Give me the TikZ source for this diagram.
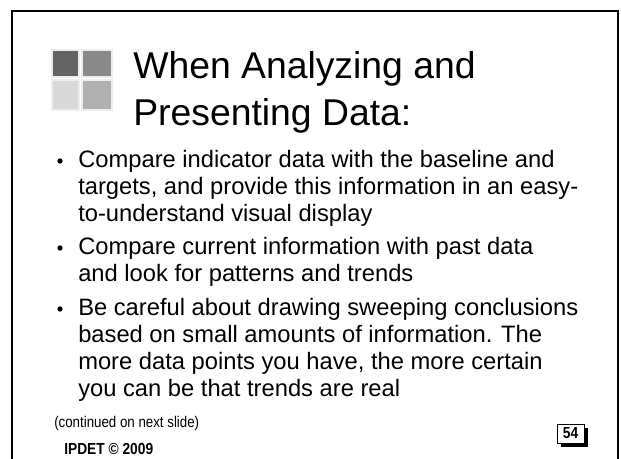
\documentclass[tikz,border=0pt]{standalone}
\usepackage{fontspec}
\setmainfont{Liberation Sans}
\newfontfamily\narrowsans[FakeStretch=0.86]{Liberation Sans}
\usetikzlibrary{shadows}
\begin{document}
\begin{tikzpicture}[x=0.75pt,y=-0.75pt,
    heading/.style={anchor=base west,inner sep=0pt,font=\fontsize{28}{34}\selectfont},
    body/.style={anchor=base west,inner sep=0pt,font=\fontsize{17.8}{20}\selectfont},
    bulletdot/.style={circle,fill=black,inner sep=0pt,minimum size=4pt},
    note/.style={anchor=base west,inner sep=0pt,font=\narrowsans\fontsize{11.6}{13}\selectfont},
    tile/.style={draw=black!7,line width=0.8pt}]
    \useasboundingbox (0,0) rectangle (621,459);

    % Frame
    \draw[line width=1.4pt] (12,459) -- (12,11) -- (618,11) -- (618,459);

    % Tiles
    \filldraw[tile,fill=black!61] (52,50) rectangle (79,77);
    \filldraw[tile,fill=black!46] (82,50) rectangle (112,77);
    \filldraw[tile,fill=black!15] (52,80) rectangle (79,110);
    \filldraw[tile,fill=black!31] (82,80) rectangle (112,110);

    % Title
    \node[heading] (title1) at (133,79) {When Analyzing and};
    \node[heading] (title2) at (133,126) {Presenting Data:};

    % First point
    \node[bulletdot] (dot1) at (60,161) {};
    \node[body] (p1a) at (78,168) {Compare indicator data with the baseline and};
    \node[body] (p1b) at (78,195) {targets, and provide this information in an easy-};
    \node[body] (p1c) at (78,222) {to-understand visual display};

    % Second point
    \node[bulletdot] (dot2) at (60,248) {};
    \node[body] (p2a) at (78,255) {Compare current information with past data};
    \node[body] (p2b) at (78,282) {and look for patterns and trends};

    % Third point
    \node[bulletdot] (dot3) at (60,309) {};
    \node[body] (p3a) at (78,316) {Be careful about drawing sweeping conclusions};
    \node[body] (p3b) at (78,343) {based on small amounts of information. The};
    \node[body] (p3c) at (78,370) {more data points you have, the more certain};
    \node[body] (p3d) at (78,397) {you can be that trends are real};

    % Footer
    \node[note] (cont) at (54,427) {(continued on next slide)};
    \node[note,font=\narrowsans\fontsize{12}{14}\selectfont\bfseries] (ipdet) at (64,455) {IPDET \textcopyright{} 2009};
    \node[draw,fill=white,line width=0.6pt,minimum width=20.25pt,minimum height=14.25pt,inner sep=0pt,
      font=\narrowsans\fontsize{12}{13}\selectfont\bfseries,
      drop shadow={shadow xshift=3pt,shadow yshift=-3pt,fill=black,opacity=1}] (page) at (570.5,433.5) {54};
\end{tikzpicture}
\end{document}
